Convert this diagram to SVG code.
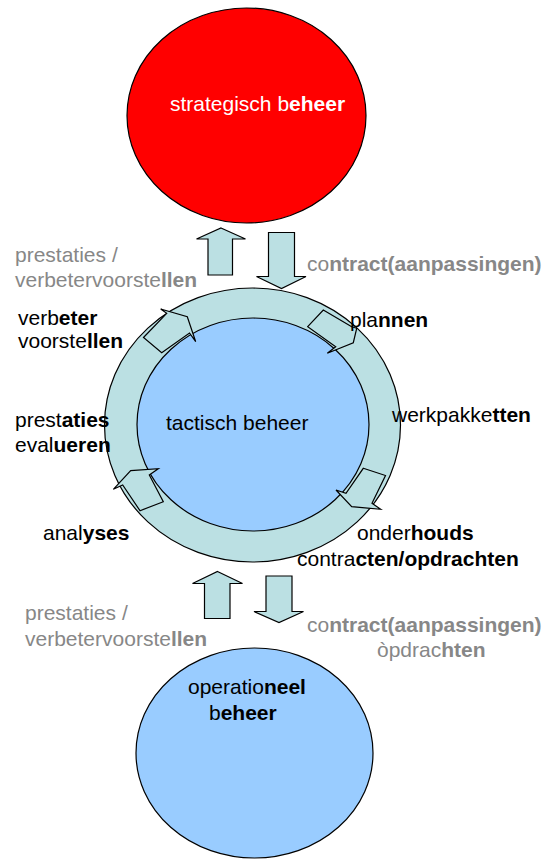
<svg xmlns="http://www.w3.org/2000/svg" width="548" height="860" viewBox="0 0 548 860">
<style>
.t{font-family:"Liberation Sans",Arial,sans-serif;font-size:21px;fill:#000}
.g{fill:#878787}
.w{fill:#fff}
.b{font-weight:bold}
.node{stroke:#000;stroke-width:1.2}
.arr{fill:#BBE0E3;stroke:#000;stroke-width:1.2;stroke-linejoin:miter}
</style>
<rect width="548" height="860" fill="#fff"/>
<g id="strategisch">
<ellipse class="node" cx="246.5" cy="115.5" rx="119.5" ry="107.5" fill="#FF0000"/>
<text class="t w" x="170" y="111">strategisch b<tspan class="b">eheer</tspan></text>
</g>
<g id="tactisch">
<ellipse class="node" cx="252.5" cy="425" rx="148" ry="137" fill="#BBE0E3"/>
<ellipse class="node" cx="253" cy="424.5" rx="116" ry="106.5" fill="#99CCFF"/>
<text class="t" x="166" y="430">tactisch beheer</text>
</g>
<g id="operationeel">
<ellipse class="node" cx="254.5" cy="753" rx="118.5" ry="105" fill="#99CCFF"/>
<text class="t" x="188" y="694">operatio<tspan class="b">neel</tspan></text>
<text class="t" x="209" y="720">b<tspan class="b">eheer</tspan></text>
</g>
<g id="connectors">
<polygon class="arr" points="221,228 245.5,239 232.5,239 232.5,275 208,275 208,239 196.5,239"/>
<polygon class="arr" points="268.5,232.5 294.5,232.5 294.5,276.5 306,276.5 281.5,288.5 256.5,276.5 268.5,276.5"/>
<polygon class="arr" points="217.5,571.5 242.5,583.5 230,583.5 230,618.5 204.5,618.5 204.5,583.5 192.5,583.5"/>
<polygon class="arr" points="266,576 292,576 292,611.5 303.5,611.5 279,622.5 254,611.5 266,611.5"/>
<polygon class="arr" points="143.5,337.5 166.7,313.3 160.7,309 187.3,316.7 195.7,341.7 189.5,333 161.7,352.7"/>
<polygon class="arr" points="307.7,326.7 323.3,310 351.7,326.7 356.7,328.3 353.3,342.7 327.3,353.3 335.7,346.7"/>
<polygon class="arr" points="363.3,468.3 385.5,475.5 372,503.3 380.7,509.3 351.7,506.7 336,490 346,493.3"/>
<polygon class="arr" points="140,510.7 122.7,485 113.3,489.3 130.7,470.7 158.3,468.7 149.3,475 163.3,501.7"/>
</g>
<g id="labels">
<text class="t g" x="15" y="262">prestaties /</text>
<text class="t g" x="15" y="287">verbetervoorste<tspan class="b">llen</tspan></text>
<text class="t g" x="307" y="271">co<tspan class="b">ntract(aanpassingen)</tspan></text>
<text class="t" x="18" y="325">verb<tspan class="b">eter</tspan></text>
<text class="t" x="18" y="348">voorste<tspan class="b">llen</tspan></text>
<text class="t" x="350" y="327">pla<tspan class="b">nnen</tspan></text>
<text class="t" x="15" y="427">prest<tspan class="b">aties</tspan></text>
<text class="t" x="15" y="452">eval<tspan class="b">ueren</tspan></text>
<text class="t" x="392" y="422">werkpakke<tspan class="b">tten</tspan></text>
<text class="t" x="43" y="540">anal<tspan class="b">yses</tspan></text>
<text class="t" x="357" y="540">onder<tspan class="b">houds</tspan></text>
<text class="t" x="297" y="566">contra<tspan class="b">cten/opdrachten</tspan></text>
<text class="t g" x="25" y="620">prestaties /</text>
<text class="t g" x="25" y="646">verbetervoorste<tspan class="b">llen</tspan></text>
<text class="t g" x="307" y="632">co<tspan class="b">ntract(aanpassingen)</tspan></text>
<text class="t g" x="377" y="657">òpdrac<tspan class="b">hten</tspan></text>
</g>
</svg>
